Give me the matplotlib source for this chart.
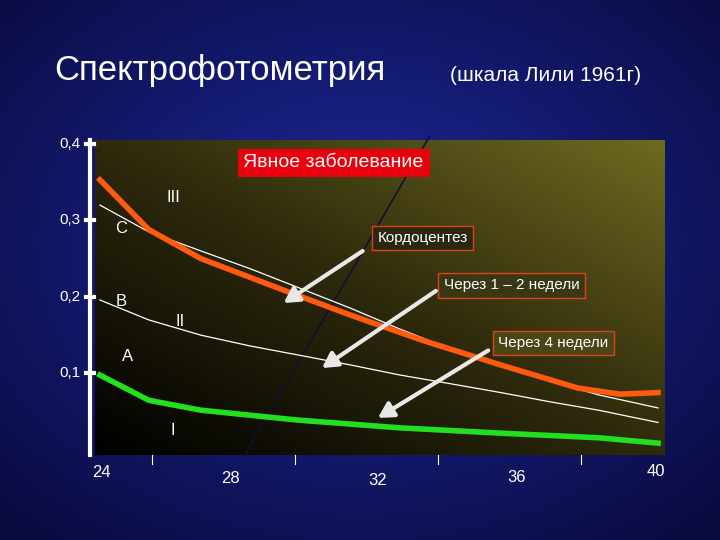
import matplotlib
matplotlib.use("Agg")
import matplotlib.pyplot as plt
import numpy as np

plt.rcParams['font.family'] = ['Liberation Sans', 'DejaVu Sans']

weeks_orange = [24.0, 25.4, 26.9, 29.2, 31.2, 33.2, 35.5, 37.7, 38.9, 40.0]
vals_orange = [0.353, 0.288, 0.25, 0.21, 0.176, 0.144, 0.111, 0.081, 0.073, 0.075]
weeks_white1 = [24.0, 25.4, 26.9, 28.3, 29.7, 31.2, 32.6, 34.0, 35.5, 36.9, 38.3, 40.0]
vals_white1 = [0.32, 0.285, 0.26, 0.237, 0.212, 0.185, 0.158, 0.133, 0.111, 0.09, 0.072, 0.055]
weeks_white2 = [24.0, 25.4, 26.9, 28.3, 29.7, 31.2, 32.6, 34.0, 35.5, 36.9, 38.3, 40.0]
vals_white2 = [0.196, 0.17, 0.15, 0.136, 0.124, 0.111, 0.098, 0.087, 0.075, 0.063, 0.052, 0.036]
weeks_green = [24.0, 25.4, 26.9, 29.7, 32.6, 35.5, 38.3, 40.0]
vals_green = [0.098, 0.065, 0.052, 0.039, 0.029, 0.022, 0.016, 0.009]
weeks_line = [28.15, 33.45]
vals_line = [-0.007, 0.41]
y_ticks = [0.4, 0.3, 0.2, 0.1]
y_labels = ["0,4", "0,3", "0,2", "0,1"]
x_labels = ["24", "28", "32", "36", "40"]
x_label_pos = [(24.05, -0.03), (27.75, -0.037), (31.95, -0.04), (35.95, -0.036), (39.95, -0.028)]

fig = plt.figure(figsize=(7.2, 5.4), dpi=100)

# background
bg = fig.add_axes([0, 0, 1, 1])
yy, xx = np.mgrid[0:1:200j, 0:1:200j]
r = np.sqrt((xx - 0.5) ** 2 + (yy - 0.45) ** 2)
bg.imshow(np.clip(1 - r * 1.4, 0, 1), cmap=matplotlib.colors.LinearSegmentedColormap.from_list(
    "b", ["#0a0a40", "#1c2a9a"]), aspect="auto", extent=[0, 1, 0, 1])
bg.set_axis_off()
bg.text(0.075, 0.87, "Спектрофотометрия", color="white", fontsize=25, va="center")
bg.text(0.625, 0.86, "(шкала Лили 1961г)", color="white", fontsize=15, va="center")

ax = fig.add_axes([95 / 720, 85 / 540, 570 / 720, 315 / 540])
ax.set_xlim(23.86, 40.2)
ax.set_ylim(-0.0065, 0.405)
grad = (xx * 0.6 + (1 - yy) * 0.6)
ax.imshow(grad, cmap=matplotlib.colors.LinearSegmentedColormap.from_list(
    "g", ["#000000", "#2e2a0c", "#6e6a20"]), aspect="auto",
    extent=[23.86, 40.2, -0.0065, 0.405], origin="upper", zorder=0)
ax.set_axis_off()

ax.plot(weeks_line, vals_line, color="#101030", lw=1.2, zorder=2, clip_on=False)
ax.plot(weeks_white1, vals_white1, color="white", lw=0.9, zorder=3)
ax.plot(weeks_white2, vals_white2, color="white", lw=0.9, zorder=3)
ax.plot(weeks_orange, vals_orange, color="#ff5a10", lw=4, zorder=4)
ax.plot(weeks_green, vals_green, color="#22e020", lw=4, zorder=4)

# y axis
ax.plot([23.72, 23.72], [-0.0065, 0.405], color="white", lw=3, clip_on=False)
for t, lab in zip(y_ticks, y_labels):
    ax.plot([23.6, 23.84], [t, t], color="white", lw=3, clip_on=False)
    ax.text(23.45, t, lab, color="white", fontsize=11, ha="right", va="center")
for w in [25.5, 29.6, 33.7, 37.8]:
    ax.plot([w, w], [-0.0065, -0.018], color="white", lw=0.8, clip_on=False)
for (x, y), lab in zip(x_label_pos, x_labels):
    ax.text(x, y, lab, color="white", fontsize=12, ha="center", va="center")

for x, y, s in [(26.1, 0.33, "III"), (24.6, 0.289, "C"), (24.6, 0.194, "B"),
                (26.3, 0.168, "II"), (24.8, 0.122, "A"), (26.1, 0.026, "I")]:
    ax.text(x, y, s, color="white", fontsize=12, ha="center", va="center")

ax.text(30.7, 0.375, "Явное заболевание", color="white", fontsize=14, ha="center", va="center",
        bbox=dict(boxstyle="square,pad=0.3", fc="#e8000c", ec="none"), zorder=6)
ax.text(33.25, 0.277, "Кордоцентез", color="white", fontsize=11, ha="center", va="center",
        bbox=dict(boxstyle="square,pad=0.35", fc="#2a2810", ec="#e0401a"), zorder=6)
ax.text(35.8, 0.215, "Через 1 – 2 недели", color="white", fontsize=11, ha="center", va="center",
        bbox=dict(boxstyle="square,pad=0.35", fc="#3a3814", ec="#e0401a"), zorder=6)
ax.text(37.0, 0.14, "Через 4 недели", color="white", fontsize=11, ha="center", va="center",
        bbox=dict(boxstyle="square,pad=0.35", fc="#4a4618", ec="#e0401a"), zorder=6)

arrow = dict(arrowstyle="-|>,head_width=0.5,head_length=0.9", color="#e8e8e8", lw=3)
ax.annotate("", xy=(29.2, 0.19), xytext=(31.6, 0.262), arrowprops=arrow, zorder=5)
ax.annotate("", xy=(30.3, 0.105), xytext=(33.7, 0.21), arrowprops=arrow, zorder=5)
ax.annotate("", xy=(31.9, 0.04), xytext=(35.2, 0.132), arrowprops=arrow, zorder=5)

fig.savefig("out.png", dpi=100)
